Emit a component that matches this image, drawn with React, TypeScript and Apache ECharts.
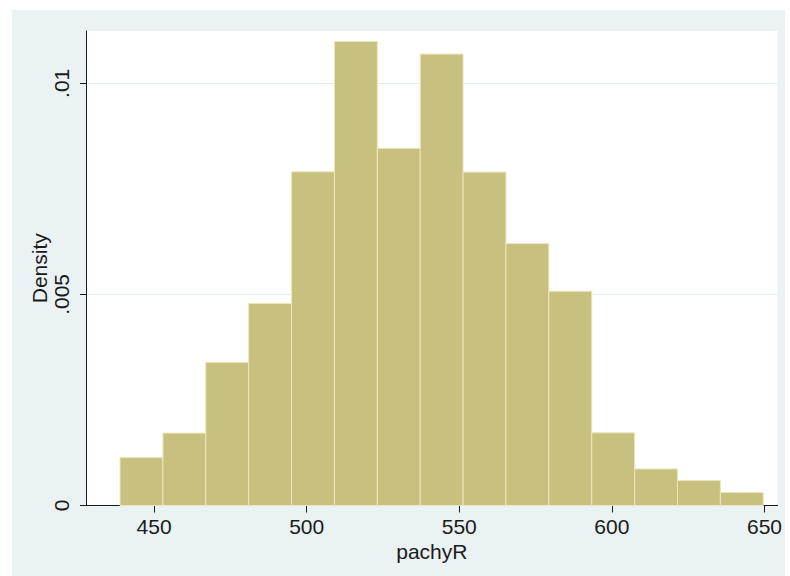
import React, { useEffect, useRef } from "react";
import * as echarts from "echarts";

// Histogram bin edges of pachyR
const binEdges = [438.85, 452.9, 466.95, 481.0, 495.05, 509.1, 523.15, 537.2, 551.25, 565.3, 579.35, 593.4, 607.45, 621.5, 635.55, 649.6];
// Density per bin
const densities = [0.001135, 0.001715, 0.003392, 0.004786, 0.007905, 0.010993, 0.008461, 0.010694, 0.007898, 0.006204, 0.005078, 0.001722, 0.000867, 0.000594, 0.000309];
const xTicks = [450, 500, 550, 600, 650];
const yTicks = [0, 0.005, 0.01];
const yTickLabels = ["0", ".005", ".01"];

const FONT = "'Liberation Sans Narrow', 'Arial Narrow', 'Liberation Sans', Arial, sans-serif";

export default function App() {
  const ref = useRef<HTMLDivElement>(null);
  useEffect(() => {
    if (!ref.current) return;
    const chart = echarts.init(ref.current, undefined, { renderer: "svg" });
    const data = densities.map((d, i) => [binEdges[i], binEdges[i + 1], d]);
    chart.setOption({
      animation: false,
      backgroundColor: "#EAF2F3",
      grid: {
        left: 74,
        top: 21,
        right: 7,
        bottom: 70.5,
        show: true,
        backgroundColor: "#ffffff",
        borderWidth: 0,
      },
      xAxis: {
        type: "value",
        min: 427.7,
        max: 654.3,
        name: "pachyR",
        nameLocation: "middle",
        nameGap: 31,
        nameTextStyle: { fontFamily: FONT, fontSize: 21, color: "#1a1a1a" },
        axisLine: { show: true, onZero: false, lineStyle: { color: "#1a1a1a", width: 1 } },
        axisTick: { show: true, length: 7, customValues: xTicks, lineStyle: { color: "#1a1a1a" } },
        axisLabel: {
          customValues: xTicks,
          margin: 10,
          fontFamily: FONT,
          fontSize: 21,
          color: "#1a1a1a",
        },
        splitLine: { show: false },
      },
      yAxis: {
        type: "value",
        min: 0,
        max: 0.01124,
        name: "Density",
        nameLocation: "middle",
        nameRotate: 90,
        nameGap: 36,
        nameMoveOverlap: false,
        nameTextStyle: { fontFamily: FONT, fontSize: 21, color: "#1a1a1a" },
        axisLine: { show: true, lineStyle: { color: "#1a1a1a", width: 1 } },
        axisTick: { show: true, length: 6, customValues: yTicks, lineStyle: { color: "#1a1a1a" } },
        axisLabel: {
          customValues: yTicks,
          rotate: 90,
          margin: 14,
          fontFamily: FONT,
          fontSize: 21,
          color: "#1a1a1a",
          formatter: (v: number) => {
            const idx = yTicks.findIndex((t) => Math.abs(t - v) < 1e-9);
            return idx >= 0 ? yTickLabels[idx] : "";
          },
        },
        splitLine: { show: true, lineStyle: { color: "#E3ECEE", width: 1 } },
      },
      series: [
        {
          type: "custom",
          data,
          encode: { x: [0, 1], y: 2 },
          renderItem: (params: any, api: any) => {
            const p0 = api.coord([api.value(0), api.value(2)]);
            const p1 = api.coord([api.value(1), 0]);
            return {
              type: "rect",
              shape: { x: p0[0], y: p0[1], width: p1[0] - p0[0], height: p1[1] - p0[1] },
              style: { fill: "#C8C07E", stroke: "#EDE7BC", lineWidth: 1 },
            };
          },
        },
      ],
    });
    return () => chart.dispose();
  }, []);
  return (
    <div style={{ position: "fixed", left: 0, top: 0, width: 790, height: 576, background: "#ffffff" }}>
      <div ref={ref} style={{ position: "absolute", left: 12, top: 10, width: 773, height: 566 }} />
    </div>
  );
}
